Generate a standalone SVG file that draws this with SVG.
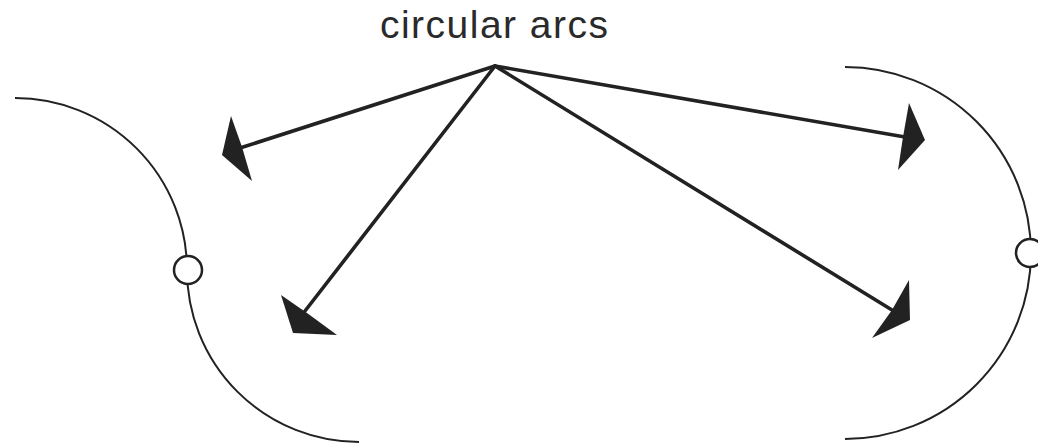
<svg xmlns="http://www.w3.org/2000/svg" width="1038" height="445" viewBox="0 0 1038 445">
<style>
.arc{fill:none;stroke:#222;stroke-width:2}
.shaft{stroke:#222;stroke-width:3.6;stroke-linecap:round}
.head{fill:#222}
.joint{fill:#fff;stroke:#222;stroke-width:2.5}
.lbl{font-family:"Liberation Sans",Arial,sans-serif;font-size:39px;fill:#2a2a2a}
</style>
<rect width="1038" height="445" fill="#fff"/>
<g id="label"><text class="lbl" x="380" y="38" textLength="228">circular arcs</text></g>
<g id="left-curve">
<path class="arc" d="M15,98 A172,172 0 0 1 187,270 A172,172 0 0 0 359,442"/>
<circle class="joint" cx="188" cy="270" r="14"/>
</g>
<g id="right-curve">
<path class="arc" d="M845,67 A186,186 0 0 1 845,439"/>
<circle class="joint" cx="1030" cy="253" r="14"/>
</g>
<g id="connectors">
<line class="shaft" x1="495" y1="66" x2="240" y2="148"/>
<polygon class="head" points="222,155 231,116 242,147 252,181"/>
<line class="shaft" x1="495" y1="66" x2="305" y2="311"/>
<polygon class="head" points="293,333 281,295 307,313 337,335"/>
<line class="shaft" x1="495" y1="66" x2="905" y2="137"/>
<polygon class="head" points="925,140 909,103 903,137 898,170"/>
<line class="shaft" x1="495" y1="66" x2="892" y2="310"/>
<polygon class="head" points="910,320 909,280 892,310 872,338"/>
</g>
</svg>
